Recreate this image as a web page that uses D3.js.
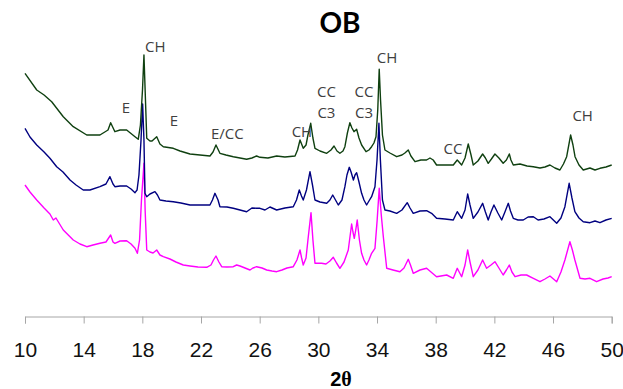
<!DOCTYPE html>
<html>
<head>
<meta charset="utf-8">
<script src="https://cdn.jsdelivr.net/npm/d3@7"></script>
<style>
  html, body { margin: 0; padding: 0; background: #fff; }
  svg { display: block; }
</style>
</head>
<body>
<svg id="chart" width="623" height="389"></svg>
<script>
// ---- data (2θ in degrees, intensity in arbitrary units, stacked traces) ----
const xTicks = [10, 14, 18, 22, 26, 30, 34, 38, 42, 46, 50];

const greenTrace = [
  [10.00,226.7],[10.80,210],[11.30,205],[11.82,198.3],[12.61,183.3],[13.29,173.3],[14.21,165],
  [15.11,165],[15.66,170],[15.84,177.3],[16.13,168.3],[16.48,170],[16.93,170],[17.50,163.3],
  [17.72,160.7],[17.87,175],[18.01,210],[18.11,245],[18.19,210],[18.30,161.7],[18.52,159],
  [18.66,159],[18.98,163.3],[19.20,156],[19.43,153.3],[20.11,151.7],[20.57,149],[21.25,146],
  [21.93,145],[22.61,144],[22.82,148],[23.02,155],[23.29,146.7],[23.70,145],[24.20,143.3],
  [24.66,142],[25.11,140.7],[25.47,142],[25.79,144],[26.02,142.7],[26.56,142],[27.16,144],
  [27.72,143],[28.41,144],[28.58,150],[28.75,160],[28.97,151.7],[29.16,155],[29.29,165],
  [29.48,176.7],[29.63,162],[29.77,151.7],[30.11,149],[30.57,146.7],[30.86,150],[31.07,154],
  [31.27,149],[31.47,146.7],[31.68,149],[31.81,153.3],[31.98,167],[32.15,177.3],[32.29,172],
  [32.43,168.3],[32.61,170.7],[32.77,162],[32.95,155],[33.25,148.3],[33.45,150],[33.63,153.3],
  [33.79,157],[33.93,163.3],[34.05,190],[34.15,230.7],[34.24,200],[34.37,165],[34.54,150],
  [34.88,147],[35.34,143.3],[35.70,145],[35.90,147],[36.13,150],[36.31,144],[36.59,138.3],
  [36.99,140],[37.38,140],[37.61,142],[37.83,140],[38.06,135],[38.63,135],[39.20,135],
  [39.47,140],[39.77,135],[40.00,142],[40.22,156],[40.41,145],[40.56,135],[40.88,139],
  [41.20,146],[41.39,142],[41.58,136.7],[41.80,141],[42.04,146],[42.31,142],[42.60,136.7],
  [42.82,140],[43.02,146],[43.13,140],[43.29,135],[43.75,136],[44.23,134],[44.65,133.3],
  [45.11,132],[45.45,133],[45.79,135],[46.13,132],[46.47,130],[46.71,136],[46.93,143.3],
  [47.20,165],[47.36,155],[47.50,143.3],[47.77,135],[48.06,130],[48.52,132],[48.86,130],
  [49.20,131.7],[49.61,133],[50.00,135]
];

const blueTrace = [
  [10.00,171.7],[10.34,163],[10.80,155],[11.30,148],[11.70,141.7],[12.16,133.3],[12.59,128],
  [13.07,120],[13.48,115],[13.97,110],[14.43,110],[15.11,113.3],[15.52,116],[15.79,123.3],
  [16.00,116],[16.13,113.3],[16.48,114],[16.93,114],[17.23,111],[17.50,107.3],[17.64,110],
  [17.77,125],[17.91,160],[18.02,196],[18.11,160],[18.18,106.7],[18.30,103.3],[18.52,106],
  [18.86,108.3],[19.03,105],[19.20,100],[19.61,99],[20.11,98.3],[20.63,97],[21.25,95],
  [21.93,95],[22.61,95],[22.78,100],[22.95,106.7],[23.16,100],[23.29,93.3],[23.77,93],
  [24.20,91.7],[24.66,90],[25.11,88.3],[25.47,92],[25.79,91.7],[26.02,91.7],[26.36,90],
  [26.70,93],[27.16,90],[27.72,92],[28.29,93.3],[28.51,100],[28.70,110],[28.85,104],
  [28.97,100],[29.19,110],[29.43,128.3],[29.60,115],[29.77,100],[30.11,98],[30.57,96.7],
  [30.79,100],[30.98,105],[31.17,100],[31.36,95],[31.61,100],[31.81,113.3],[31.95,125],
  [32.11,132.7],[32.23,128],[32.39,120],[32.50,125],[32.61,127.3],[32.77,118],[32.95,106.7],
  [33.11,100],[33.29,95],[33.45,99],[33.63,103.3],[33.86,113.3],[34.00,140],[34.13,176.7],
  [34.23,140],[34.37,100],[34.54,90],[34.88,89],[35.34,86.7],[35.70,90],[36.06,97.3],
  [36.25,92],[36.47,86.7],[36.93,89],[37.38,89.3],[37.72,86.7],[38.06,81.7],[38.63,81],
  [39.20,80],[39.47,88.3],[39.77,81.7],[40.00,90],[40.18,106],[40.34,95],[40.56,81.7],
  [40.88,88],[41.20,96.7],[41.39,88],[41.58,80],[41.77,88],[41.97,95],[42.24,87],[42.50,80],
  [42.72,88],[42.95,96.7],[43.10,89],[43.29,81.7],[43.61,80],[43.97,80],[44.30,83],
  [44.66,83.3],[44.98,80],[45.38,81],[45.79,83.3],[46.25,76.7],[46.54,82],[46.81,93.3],
  [47.10,116.7],[47.29,102],[47.49,88.3],[47.77,82],[48.06,78.3],[48.52,77.3],[48.86,79],
  [49.20,77.3],[49.61,80],[50.00,81.7]
];

const magentaTrace = [
  [10.00,115],[10.34,108],[10.80,100],[11.30,92],[11.70,86],[11.93,80],[12.11,82],[12.61,70],
  [13.29,60],[13.75,56],[14.21,53.3],[14.64,55],[15.11,56.7],[15.52,58],[15.84,65],[16.00,58],
  [16.13,56.7],[16.48,59],[16.93,59.3],[17.23,56],[17.50,51.7],[17.66,46.7],[17.81,60],
  [17.94,100],[18.11,136.7],[18.19,90],[18.30,50],[18.52,48],[18.73,47],[18.98,50],
  [19.20,45],[19.43,43.3],[19.88,41],[20.29,38],[20.79,35],[21.25,34],[21.79,33],[22.39,32.7],
  [22.68,35],[22.85,40],[23.02,44],[23.22,38],[23.41,33.3],[23.77,33],[24.20,33.3],[24.43,35],
  [24.66,34],[25.00,32],[25.34,30],[25.54,32],[25.79,33.3],[26.16,32],[26.48,30],[26.84,29],
  [27.16,28.3],[27.52,30],[27.86,32],[28.29,33.3],[28.54,40],[28.75,50],[28.86,42],[28.97,35],
  [29.16,42],[29.29,60],[29.50,87.3],[29.63,60],[29.77,36.7],[30.22,36.7],[30.52,36],
  [30.79,39],[31.02,42.7],[31.24,37],[31.47,31.7],[31.75,38],[32.04,50],[32.27,76],[32.36,68],
  [32.45,61.7],[32.55,70],[32.65,80],[32.80,60],[32.95,46.7],[33.11,40],[33.29,35],[33.45,40],
  [33.63,46.7],[33.86,51.7],[34.01,80],[34.15,111.7],[34.29,85],[34.43,63.3],[34.66,31.7],
  [35.09,30],[35.56,28.3],[35.84,32],[36.13,40.7],[36.28,35],[36.47,26.7],[36.93,30],
  [37.38,31.7],[37.68,28],[38.06,23.3],[38.75,25],[39.20,21.7],[39.47,31.7],[39.77,23.3],
  [40.00,35],[40.18,50],[40.34,38],[40.56,23.3],[40.88,30],[41.20,40],[41.47,31.7],[41.77,35],
  [42.04,38.3],[42.31,32],[42.60,25],[42.82,30],[43.02,35],[43.20,28],[43.41,23.3],[43.82,25],
  [44.20,25],[44.66,21.7],[45.11,18.3],[45.45,21],[45.79,24],[46.25,18.3],[46.54,28],
  [46.81,40],[47.15,58.3],[47.32,50],[47.49,40],[47.84,21.7],[48.18,21],[48.52,21.7],
  [48.97,18.3],[49.41,21],[49.75,22],[50.00,23.3]
];

// peak annotations: [text, 2θ, intensity]
const peakLabels = [
  ["CH", 18.88, 248.3],
  ["E", 16.88, 187.3],
  ["E", 20.16, 174],
  ["E/CC", 23.80, 160.7],
  ["CH", 28.88, 163.3],
  ["CC", 30.55, 203.3],
  ["C3", 30.55, 182],
  ["CC", 33.11, 203.3],
  ["C3", 33.11, 182],
  ["CH", 34.68, 236.7],
  ["CC", 39.18, 146],
  ["CH", 48.02, 179.3]
];

const titleText = "OB";

// ---- drawing ----
const svg = d3.select("#chart");
const x = d3.scaleLinear().domain([10, 50]).range([25, 611.7]);
const y = d3.scaleLinear().domain([0, 250]).range([300, 50]);

const line = d3.line().x(d => x(d[0])).y(d => y(d[1])).curve(d3.curveLinear);

const series = [
  { data: magentaTrace, color: "#ff00ff" },
  { data: blueTrace, color: "#000080" },
  { data: greenTrace, color: "#0f4010" }
];

svg.append("g").selectAll("path").data(series).join("path")
  .attr("d", d => line(d.data))
  .attr("fill", "none")
  .attr("stroke", d => d.color)
  .attr("stroke-width", 1.4)
  .attr("stroke-linejoin", "round");

// x axis
const axis = d3.axisBottom(x).tickValues(xTicks).tickSize(7).tickSizeOuter(7).tickFormat(d3.format("d"));
const gx = svg.append("g").attr("transform", "translate(0,316.5)").call(axis);
gx.select(".domain").attr("stroke", "#a6a6a6");
gx.selectAll(".tick line").attr("stroke", "#a6a6a6");
gx.selectAll(".tick text")
  .attr("y", 40).attr("dy", 0)
  .attr("font-family", "'Liberation Sans', Arial, sans-serif")
  .attr("font-size", 21)
  .attr("fill", "#111");

// peak labels
svg.append("g").selectAll("text").data(peakLabels).join("text")
  .attr("x", d => x(d[1]))
  .attr("y", d => y(d[2]))
  .attr("text-anchor", "middle")
  .attr("font-family", "'Open Sans', Lato, sans-serif")
  .attr("font-size", 15)
  .attr("fill", "#404040")
  .text(d => d[0]);

// title
svg.append("text")
  .attr("x", 340).attr("y", 33)
  .attr("text-anchor", "middle")
  .attr("font-family", "Lato, sans-serif")
  .attr("font-weight", "bold")
  .attr("font-size", 28)
  .attr("fill", "#000")
  .text(titleText);

// x axis title
const xt = svg.append("text")
  .attr("x", 341).attr("y", 386)
  .attr("text-anchor", "middle")
  .attr("font-weight", "bold")
  .attr("font-size", 20)
  .attr("fill", "#000");
xt.append("tspan").attr("font-family", "'Liberation Sans', Arial, sans-serif").text("2");
xt.append("tspan").attr("font-family", "'Liberation Serif', 'Times New Roman', serif").text("θ");
</script>
</body>
</html>
